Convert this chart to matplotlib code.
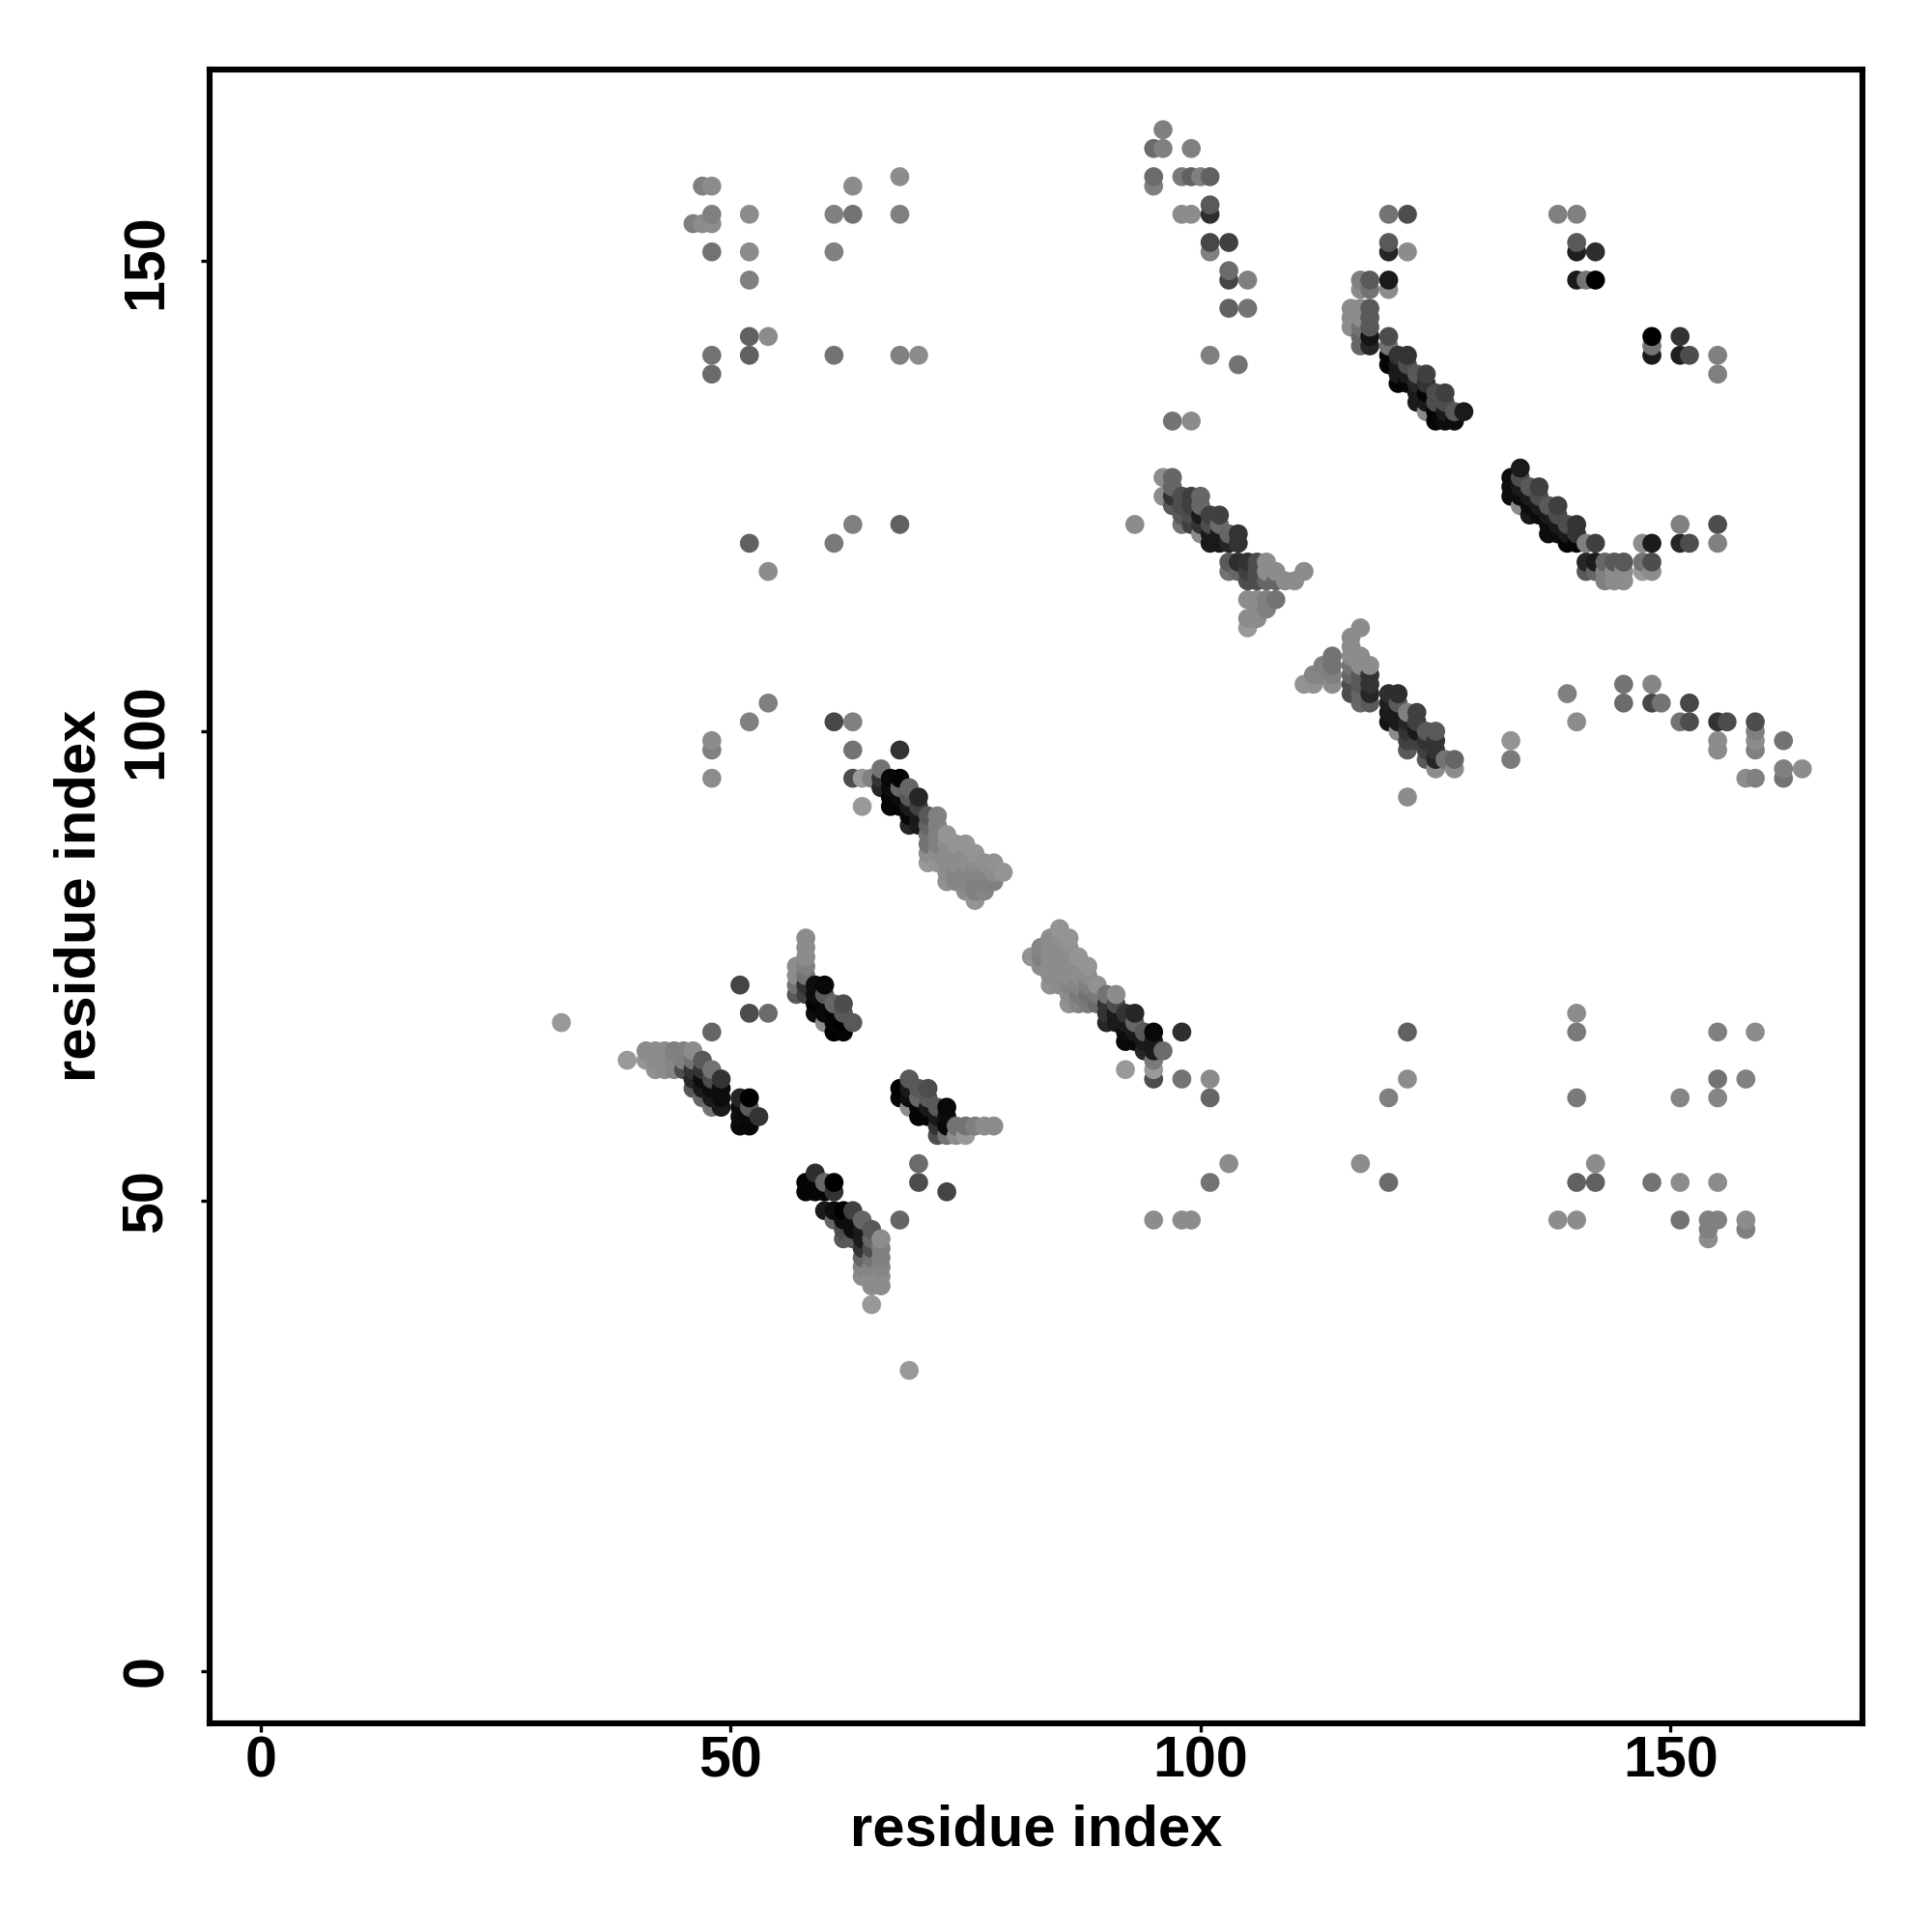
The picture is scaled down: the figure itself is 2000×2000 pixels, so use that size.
import numpy as np
import matplotlib
matplotlib.use("Agg")
import matplotlib.pyplot as plt

# each entry: (residue x, residue y, grey level)
isolated_left = [
 (32,69,.6),(39,65,.6),(48,68,.4),(51,73,.27),(52,70,.3),(54,70,.42),
 (47,158,.5),(48,158,.55),(46,154,.5),(47,154,.55),(48,154,.55),(48,155,.5),(48,151,.45),
 (52,155,.55),(52,151,.55),(52,148,.5),(52,142,.38),(52,140,.38),(54,142,.55),
 (48,140,.45),(48,138,.42),(61,151,.5),(61,155,.5),(63,155,.45),(63,158,.55),
 (68,159,.55),(68,155,.5),(61,140,.45),(68,140,.5),(70,140,.55),
 (52,120,.38),(54,117,.55),(61,120,.48),(63,122,.5),(68,122,.38),
 (48,99,.55),(48,98,.5),(48,95,.55),(52,101,.5),(54,103,.5),
 (61,101,.28),(63,101,.5),(63,98,.45),(68,98,.2),(64,92,.6),
 (69,32,.6),(70,54,.42),(70,52,.3),(73,51,.27),(68,48,.4),(65,39,.6),
]
band_a = [
 (41,66,.55),(41,65,.58),(42,66,.55),(42,65,.55),(42,64,.57),
 (43,66,.55),(43,65,.55),(43,64,.55),(44,66,.5),(44,65,.52),(44,64,.52),
 (45,66,.5),(45,65,.5),(45,64,.3),(46,66,.55),(46,65,.45),(46,64,.2),(46,63,.15),(46,62,.35),
 (47,65,.35),(47,64,.2),(47,63,.05),(47,62,.1),(47,61,.4),
 (48,64,.45),(48,63,.3),(48,62,.05),(48,61,.1),(48,60,.45),
 (49,63,.2),(49,62,.05),(49,61,.05),(49,60,.1),
 (51,61,.15),(51,60,.05),(51,59,.05),(51,58,.03),
 (52,61,0),(52,60,.35),(52,59,.03),(52,58,.03),(53,59,.2),
]
band_b = [
 (58,78,.55),(58,77,.55),(58,76,.55),(58,75,.5),(58,74,.45),(58,73,.2),(58,72,.25),
 (57,75,.55),(57,74,.55),(57,73,.45),(57,72,.35),
 (59,73,.05),(59,72,.05),(59,71,.02),(59,70,.05),
 (60,73,.03),(60,72,.35),(60,71,.03),(60,70,.03),(60,69,.55),
 (61,71,.4),(61,70,.02),(61,69,.02),(61,68,0),
 (62,71,.3),(62,70,.35),(62,69,0),(62,68,.02),(63,69,.35),
]
band_c = [
 (68,62,0),(68,61,.02),(69,63,.35),(69,62,.1),(69,61,.05),(69,60,.55),
 (70,62,.35),(70,61,.4),(70,60,.02),(70,59,.02),
 (71,62,.3),(71,61,.35),(71,60,.1),(71,59,.02),
 (72,60,.35),(72,59,.1),(72,58,.2),(72,57,.3),
 (73,60,.03),(73,59,.05),(73,58,.03),(73,57,.45),
 (74,58,.45),(74,57,.55),(75,58,.45),(75,57,.6),(76,58,.5),(77,58,.55),(78,58,.55),
]
band_d = [
 (58,52,.02),(58,51,.02),(59,53,.18),(59,52,.02),(59,51,.02),
 (60,52,.4),(60,51,.02),(61,52,0),(61,51,.2),
 (60,49,.1),(61,49,.05),(62,49,0),(63,49,.25),(61,48,.4),(62,48,.05),(63,48,.05),(64,48,.4),
 (62,47,.3),(63,47,.05),(64,47,.1),(65,47,.35),(62,46,.35),(63,46,.35),(64,46,.1),(65,46,.4),(66,46,.55),
 (64,45,.2),(65,45,.3),(66,45,.5),(64,44,.4),(65,44,.45),(66,44,.5),
 (64,43,.52),(65,43,.52),(66,43,.52),(64,42,.55),(65,42,.55),(66,42,.55),
 (65,41,.55),(66,41,.55),
]
band_e = [
 (63,95,.3),(64,95,.6),(65,95,.5),(66,96,.45),(66,95,.2),(66,94,.15),
 (67,95,.03),(67,94,.05),(67,93,.02),(67,92,.03),
 (68,95,.02),(68,94,.4),(68,93,.05),(68,92,.02),
 (69,94,.4),(69,93,.35),(69,92,.1),(69,91,.03),(69,90,.15),
 (70,93,.15),(70,92,.25),(70,91,.1),(70,90,.1),
 (71,91,.35),(71,90,.4),(71,89,.45),(71,88,.45),(71,87,.55),(71,86,.6),
 (72,91,.5),(72,90,.5),(72,89,.5),(72,88,.5),(72,87,.55),(72,86,.58),
 (73,89,.58),(73,88,.55),(73,87,.55),(73,86,.55),(73,85,.55),(73,84,.57),
 (74,88,.58),(74,87,.55),(74,86,.55),(74,85,.52),(74,84,.52),
 (75,88,.58),(75,87,.55),(75,86,.55),(75,85,.52),(75,84,.52),(75,83,.55),
 (76,87,.58),(76,86,.55),(76,85,.52),(76,84,.5),(76,83,.5),(76,82,.58),
 (77,86,.56),(77,85,.52),(77,84,.5),(77,83,.52),
 (78,86,.57),(78,85,.55),(78,84,.5),(79,85,.58),
]
band_f = [
 (82,76,.58),(83,77,.52),(83,76,.5),(83,75,.55),
 (84,78,.55),(84,77,.55),(84,76,.55),(84,75,.55),(84,74,.55),(84,73,.57),
 (85,79,.58),(85,78,.56),(85,77,.55),(85,76,.55),(85,75,.55),(85,74,.55),(85,73,.55),
 (86,78,.58),(86,77,.56),(86,76,.55),(86,75,.55),(86,74,.55),(86,73,.52),(86,72,.55),(86,71,.57),
 (87,76,.58),(87,75,.55),(87,74,.55),(87,73,.52),(87,72,.48),(87,71,.52),
 (88,75,.58),(88,74,.55),(88,73,.5),(88,72,.45),(88,71,.48),
 (89,73,.57),(89,72,.48),(89,71,.42),
 (90,72,.45),(90,71,.2),(90,70,.2),(90,69,.15),
 (91,72,.55),(91,71,.3),(91,70,.1),(91,69,.1),
 (92,70,.2),(92,69,.1),(92,68,.05),(92,67,.03),
 (93,70,.15),(93,69,.4),(93,68,.1),(93,67,.03),
 (94,68,.35),(94,67,.1),(94,66,.15),
 (95,68,.03),(95,67,.1),(95,66,.1),(95,65,.48),(95,64,.6),(95,63,.3),(96,66,.42),
]
isolated_lower_right = [
 (92,64,.6),(98,68,.18),(98,63,.45),(101,63,.55),(101,61,.4),(103,54,.55),(101,52,.45),
 (95,48,.55),(98,48,.55),(99,48,.55),(120,61,.5),(122,63,.55),(122,68,.38),(117,54,.55),(120,52,.42),
 (140,70,.55),(140,68,.48),(140,61,.48),(138,48,.55),(140,48,.55),(140,52,.38),(142,54,.55),(142,52,.38),
 (148,52,.45),(151,52,.55),(151,48,.45),(151,61,.52),(155,68,.5),(155,63,.45),(155,61,.52),(155,52,.55),
 (154,48,.5),(154,47,.5),(154,46,.55),(155,48,.5),(158,48,.55),(158,47,.5),(158,63,.5),(159,68,.55),
]
band_g = [
 (96,127,.55),(96,125,.55),(97,127,.4),(97,126,.4),(97,125,.2),(97,124,.35),
 (98,125,.3),(98,124,.3),(98,123,.35),(98,122,.45),
 (99,125,.25),(99,124,.25),(99,123,.3),(99,122,.25),
 (100,125,.4),(100,124,.4),(100,123,.1),(100,122,.2),(100,121,.55),
 (101,123,.25),(101,122,.3),(101,121,.1),(101,120,.1),
 (102,123,.25),(102,122,.42),(102,121,.1),(102,120,.1),
 (103,121,.4),(103,120,.15),(104,121,.2),(104,120,.2),
 (103,118,.35),(104,118,.18),(105,118,.2),(106,118,.3),(107,118,.55),
 (103,117,.45),(104,117,.4),(105,117,.25),(106,117,.3),(107,117,.55),(108,117,.55),
 (105,116,.3),(106,116,.3),(107,116,.4),(108,116,.4),(109,116,.55),(110,116,.55),(111,117,.55),
 (105,114,.55),(106,114,.55),(107,114,.5),(108,114,.45),(106,113,.55),(107,113,.5),
 (105,112,.55),(106,112,.55),(105,111,.6),
]
band_h = [
 (111,105,.58),(112,106,.52),(112,105,.57),(113,107,.5),(113,106,.52),
 (114,108,.45),(114,107,.45),(114,106,.5),(114,105,.55),
 (116,110,.55),(116,109,.55),(116,108,.55),(116,107,.45),(116,106,.4),(116,105,.3),(116,104,.3),
 (117,111,.55),(117,108,.55),(117,107,.55),(117,106,.35),(117,105,.35),(117,104,.4),(117,103,.4),
 (118,107,.55),(118,106,.2),(118,105,.2),(118,104,.15),(118,103,.35),
 (120,104,.18),(120,103,.12),(120,102,.1),(120,101,.08),
 (121,104,.18),(121,103,.35),(121,102,.1),(121,101,.1),(121,100,.55),
 (122,102,.5),(122,101,.15),(122,100,.2),(122,99,.25),(122,98,.35),
 (123,102,.25),(123,101,.25),(123,100,.1),(123,99,.25),
 (124,100,.35),(124,99,.2),(124,98,.25),(124,97,.35),
 (125,100,.35),(125,99,.2),(125,98,.2),(125,97,.15),(125,96,.55),
 (126,97,.45),(127,97,.4),(127,96,.55),(122,93,.55),
]
isolated_right = [
 (133,99,.58),(133,97,.48),(139,104,.5),(140,101,.55),(145,105,.45),(145,103,.42),
 (148,105,.52),(148,103,.28),(149,103,.45),(151,101,.45),(152,103,.28),(152,101,.3),
 (155,101,.2),(156,101,.3),(155,99,.55),(155,98,.55),
 (159,101,.3),(159,100,.5),(159,99,.55),(159,98,.5),(158,95,.55),(159,95,.5),
 (162,99,.45),(162,96,.5),(162,95,.45),(164,96,.55),(93,122,.55),
]
band_i = [
 (116,145,.55),(116,144,.55),(116,143,.55),
 (117,148,.5),(117,147,.55),(117,145,.55),(117,144,.55),(117,143,.45),(117,142,.4),(117,141,.4),
 (118,148,.35),(118,147,.45),(118,145,.35),(118,144,.35),(118,143,.35),(118,142,.08),(118,141,.15),
 (120,155,.45),(120,152,.35),(120,151,.15),(120,148,.1),(120,147,.55),
 (120,142,.3),(120,141,.45),(120,140,.02),(120,139,.02),
 (122,155,.3),(122,151,.55),
 (121,140,.2),(121,139,.1),(121,138,.1),(121,137,.02),
 (122,140,.2),(122,139,.3),(122,138,.1),(122,137,.03),
 (123,138,.35),(123,137,.15),(123,136,.1),(123,135,.1),
 (124,138,.25),(124,137,.2),(124,136,.02),(124,135,.1),(124,134,.55),
 (125,136,.3),(125,135,.3),(125,134,.02),(125,133,.02),
 (126,136,.25),(126,135,.3),(126,134,.1),(126,133,.05),
 (127,134,.35),(127,133,.05),(128,134,.1),
]
band_j = [
 (133,127,.05),(133,126,.05),(133,125,.05),
 (134,128,.1),(134,127,.3),(134,126,.1),(134,125,.05),(134,124,.55),
 (135,126,.35),(135,125,.1),(135,124,.05),(135,123,.1),
 (136,126,.25),(136,125,.3),(136,124,.1),(136,123,.05),
 (137,124,.35),(137,123,.1),(137,122,.05),(137,121,.05),
 (138,124,.25),(138,123,.3),(138,122,.1),(138,121,.05),
 (139,122,.3),(139,121,.1),(139,120,.02),
 (140,122,.2),(140,121,.2),(140,120,.02),
 (141,120,.5),(142,120,.25),
 (141,118,.15),(141,117,.35),(142,118,.1),(142,117,.4),
 (143,118,.4),(143,117,.5),(143,116,.5),(144,118,.35),(144,117,.55),(144,116,.55),
 (145,118,.35),(145,117,.55),(145,116,.55),
 (147,120,.55),(147,118,.45),(147,117,.6),(148,120,.1),(148,118,.3),(148,117,.55),
 (151,122,.5),(151,120,.15),(152,120,.3),(155,122,.3),(155,120,.5),
]
top_group = [
 (96,164,.5),(95,162,.42),(96,162,.5),(99,162,.5),(95,159,.42),(95,158,.5),
 (98,159,.48),(99,159,.38),(100,159,.5),(101,159,.38),(98,155,.55),(99,155,.55),
 (101,155,.18),(101,156,.35),(101,152,.28),(101,151,.5),(103,152,.25),
 (103,149,.42),(103,148,.27),(105,148,.5),(103,145,.38),(105,145,.45),(101,140,.5),(104,139,.45),
 (97,133,.45),(99,133,.55),
 (138,155,.5),(140,155,.5),(140,152,.35),(140,151,.12),(142,151,.18),
 (140,148,.1),(141,148,.45),(142,148,0),(148,142,0),(148,141,.45),(148,140,.1),
 (151,142,.2),(151,140,.12),(152,140,.3),(155,140,.5),(155,138,.5),
]
tick_values = [0, 50, 100, 150]
axis_label = "residue index"

groups = [isolated_left, band_a, band_b, band_c, band_d, band_e, band_f, isolated_lower_right,
          band_g, band_h, isolated_right, band_i, band_j, top_group]
pts = np.array([p for g in groups for p in g], dtype=float)
# markers are stacked by x, then by y, as in the reference
pts = pts[np.lexsort((pts[:, 1], pts[:, 0]))]

plt.rcParams["font.family"] = ["Liberation Sans", "DejaVu Sans"]
plt.rcParams["font.weight"] = "bold"

fig = plt.figure(figsize=(10, 10), dpi=200, facecolor="white")
ax = fig.add_axes([216.5/2000, (2000-1784)/2000, (1928-216.5)/2000, (1784-71.5)/2000])
ax.scatter(pts[:, 0], pts[:, 1], s=50, c=[str(v) for v in pts[:, 2]], linewidths=0, zorder=3)
ax.set_xlim(-5.47, 170.4)
ax.set_ylim(-5.55, 170.45)
ax.set_xticks(tick_values)
ax.set_yticks(tick_values)
for s in ax.spines.values():
    s.set_linewidth(2.2)
ax.tick_params(axis="x", length=3.2, width=1.2, labelsize=21.3, pad=1.2)
ax.tick_params(axis="y", length=3.2, width=1.2, labelsize=21.3, pad=10)
for t in ax.get_yticklabels():
    t.set_rotation(90)
    t.set_va("center")
ax.set_xlabel(axis_label, fontsize=21.5, fontweight="bold", labelpad=5.8)
ax.set_ylabel(axis_label, fontsize=21.5, fontweight="bold", labelpad=5.2)
fig.savefig("out.png", dpi=200)
